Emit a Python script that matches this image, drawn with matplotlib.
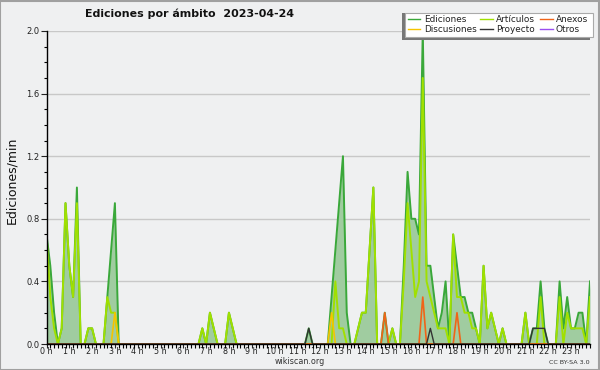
import matplotlib
matplotlib.use('Agg')
import matplotlib.pyplot as plt
from matplotlib.patches import Rectangle
from matplotlib.lines import Line2D
import numpy as np

title = "Ediciones por ámbito  2023-04-24"
ylabel = "Ediciones/min"
hour_labels = [f"{h} h" for h in range(24)]
series_names = ["Ediciones", "Artículos", "Anexos", "Discusiones", "Proyecto", "Otros"]

# values per 10-minute bin (edits/min), 12 bins = 2 hours per row
ediciones = [
    0.7, 0.5, 0.2, 0, 0.1, 0.9,   0.5, 0.3, 1.0, 0, 0, 0.1,
    0.1, 0, 0, 0, 0.3, 0.6,       0.9, 0, 0, 0, 0, 0,
    0, 0, 0, 0, 0, 0,             0, 0, 0, 0, 0, 0,
    0, 0, 0, 0, 0, 0.1,           0, 0.2, 0.1, 0, 0, 0,
    0.2, 0.1, 0, 0, 0, 0,         0, 0, 0, 0, 0, 0,
    0, 0, 0, 0, 0, 0,             0, 0, 0, 0.1, 0, 0,
    0, 0, 0, 0.3, 0.6, 0.9,       1.2, 0.2, 0, 0, 0.1, 0.2,
    0.2, 0.6, 1.0, 0, 0, 0.2,     0, 0.1, 0, 0, 0.5, 1.1,
    0.8, 0.8, 0.7, 2.0, 0.5, 0.5, 0.3, 0.1, 0.2, 0.4, 0, 0.7,
    0.5, 0.3, 0.3, 0.2, 0.2, 0.1, 0, 0.5, 0.1, 0.2, 0.1, 0,
    0.1, 0, 0, 0, 0, 0,           0.2, 0, 0.1, 0.1, 0.4, 0.1,
    0, 0, 0, 0.4, 0.1, 0.3,       0.1, 0.1, 0.2, 0.2, 0, 0.4,
]
articulos = [
    0.7, 0.3, 0.1, 0, 0.1, 0.9,   0.5, 0.3, 0.9, 0, 0, 0.1,
    0.1, 0, 0, 0, 0.3, 0.2,       0.2, 0, 0, 0, 0, 0,
    0, 0, 0, 0, 0, 0,             0, 0, 0, 0, 0, 0,
    0, 0, 0, 0, 0, 0.1,           0, 0.2, 0.1, 0, 0, 0,
    0.2, 0.1, 0, 0, 0, 0,         0, 0, 0, 0, 0, 0,
    0, 0, 0, 0, 0, 0,             0, 0, 0, 0, 0, 0,
    0, 0, 0, 0, 0.4, 0.1,         0.1, 0, 0, 0, 0.1, 0.2,
    0.2, 0.6, 1.0, 0, 0, 0,       0, 0.1, 0, 0, 0.4, 0.9,
    0.6, 0.3, 0.4, 1.7, 0.4, 0.3, 0.2, 0.1, 0.1, 0.1, 0, 0.7,
    0.3, 0.3, 0.2, 0.2, 0.1, 0.1, 0, 0.5, 0.1, 0.2, 0.1, 0,
    0.1, 0, 0, 0, 0, 0,           0.2, 0, 0, 0, 0.3, 0,
    0, 0, 0, 0.3, 0, 0.2,         0.1, 0.1, 0.1, 0.1, 0, 0.3,
]
discusiones = [0.0] * 144
discusiones[18] = 0.2
discusiones[75] = 0.2
anexos = [0.0] * 144
anexos[89] = 0.2
anexos[99] = 0.3
anexos[108] = 0.2
proyecto = [0.0] * 144
proyecto[69] = 0.1
proyecto[101] = 0.1
for _b in (128, 129, 130, 131):
    proyecto[_b] = 0.1
otros = [0.0] * 144

colors = {
    "Ediciones": "#3aa83a",
    "Artículos": "#a0e000",
    "Anexos": "#f06418",
    "Discusiones": "#f5c400",
    "Proyecto": "#333333",
    "Otros": "#9a4ef0",
}

W, H = 600, 370
bg = "#eff0f1"
fig = plt.figure(figsize=(W / 100, H / 100), dpi=100, facecolor=bg)

def fx(px):
    return px / W

def fy(py):
    return 1 - py / H

ax = fig.add_axes([fx(46.5), fy(344), fx(590 - 46.5), (344 - 31) / H])
ax.set_facecolor(bg)
x = np.arange(len(ediciones))

for yv in [0.4, 0.8, 1.2, 1.6, 2.0]:
    ax.axhline(yv, color="#c8c8c8", lw=1, zorder=0.5)

ax.fill_between(x, 0, ediciones, color="#a0cca0", lw=0, zorder=1)
ax.plot(x, ediciones, color=colors["Ediciones"], lw=1.4, zorder=2)
ax.plot(x, articulos, color=colors["Artículos"], lw=1.4, zorder=3)
ax.plot(x, discusiones, color=colors["Discusiones"], lw=1.2, zorder=4)
ax.plot(x, anexos, color=colors["Anexos"], lw=1.2, zorder=5)
ax.plot(x, proyecto, color=colors["Proyecto"], lw=1.0, zorder=6)
ax.plot(x, otros, color=colors["Otros"], lw=1.0, zorder=1.5)

ax.set_xlim(0, len(ediciones) - 1)
ax.set_ylim(0, 2.0)
for s in ["top", "right"]:
    ax.spines[s].set_visible(False)
for s in ["left", "bottom"]:
    ax.spines[s].set_color("black")
    ax.spines[s].set_linewidth(1.0)
    ax.spines[s].set_zorder(10)

ax.set_yticks([0, 0.4, 0.8, 1.2, 1.6, 2.0])
ax.set_yticklabels(["0.0", "0.4", "0.8", "1.2", "1.6", "2.0"])
ax.set_yticks(np.arange(0, 2.01, 0.1), minor=True)
ax.set_xticks(np.arange(0, 144, 6))
ax.set_xticklabels(hour_labels)
ax.set_xticks(np.arange(0, 144, 1), minor=True)
ax.tick_params(axis="y", which="major", length=4, width=0.8, labelsize=6, pad=1, colors="#222222")
ax.tick_params(axis="y", which="minor", length=2.5, width=0.8)
ax.tick_params(axis="x", which="major", length=3, width=0.8, labelsize=5.8, pad=-0.5, colors="#222222")
ax.tick_params(axis="x", which="minor", length=3, width=0.8)

fig.text(fx(85), fy(14), title, fontsize=7.9, fontweight="bold", ha="left", va="center", color="#111111")
fig.text(fx(12), fy(180), ylabel, rotation=90, fontsize=9, ha="center", va="center", color="#111111")
fig.text(fx(300), fy(362), "wikiscan.org", fontsize=5.8, ha="center", va="center", color="#333333")
fig.text(fx(590), fy(362), "CC BY-SA 3.0", fontsize=4.6, ha="right", va="center", color="#333333")

# legend box with shadow
fig.patches.append(Rectangle((fx(402), fy(39.7)), fx(187.7), 27 / H, transform=fig.transFigure,
                             facecolor="#777777", edgecolor="none", zorder=20))
fig.patches.append(Rectangle((fx(405), fy(36.7)), fx(187.7), 24 / H, transform=fig.transFigure,
                             facecolor="white", edgecolor="#aaaaaa", lw=0.8, zorder=21))
col_h = [(407.7, 420), (480, 492.7), (540, 552.7)]
col_t = [424.3, 496, 556]
rows_y = [19, 29.3]
layout = [["Ediciones", "Artículos", "Anexos"], ["Discusiones", "Proyecto", "Otros"]]
for r, row in enumerate(layout):
    for c, name in enumerate(row):
        fig.lines.append(Line2D([fx(col_h[c][0]), fx(col_h[c][1])], [fy(rows_y[r])] * 2,
                                transform=fig.transFigure, color=colors[name], lw=1.0, zorder=22))
        fig.text(fx(col_t[c]), fy(rows_y[r]), name, fontsize=6.4, ha="left", va="center",
                 color="#222222", zorder=23)

# outer frame
fig.patches.append(Rectangle((0, 0), 1 - 1 / W, 1 - 1 / H, transform=fig.transFigure,
                             facecolor="none", edgecolor="#a0a0a0", lw=1.5, zorder=30))

fig.savefig("out.png", dpi=100, facecolor=bg)
